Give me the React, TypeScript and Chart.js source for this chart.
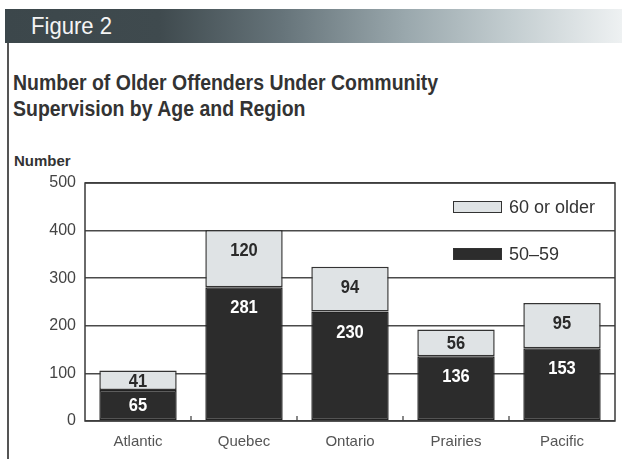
import React, { useEffect, useRef } from "react";
import { Chart, registerables } from "chart.js";

Chart.register(...registerables);

const categories = ["Atlantic", "Quebec", "Ontario", "Prairies", "Pacific"];
const age5059 = [65, 281, 230, 136, 153];
const age60plus = [41, 120, 94, 56, 95];
const seriesLabels = ["60 or older", "50\u201359"];
const yTicks = [0, 100, 200, 300, 400, 500];

const DARK = "#2c2c2c";
const LIGHT = "#dfe3e5";
const SANS = "'Liberation Sans', Arial, sans-serif";

const framePlugin = {
  id: "frame",
  afterDatasetsDraw(chart: any) {
    const { ctx, chartArea } = chart;
    const xs = chart.scales.x;
    ctx.save();
    ctx.strokeStyle = "#3a3a3a";
    ctx.lineWidth = 1.5;
    ctx.strokeRect(chartArea.left, chartArea.top, chartArea.right - chartArea.left, chartArea.bottom - chartArea.top);
    // small ticks between categories
    ctx.lineWidth = 1.2;
    for (let i = 0; i < categories.length - 1; i++) {
      const xp = (xs.getPixelForValue(i) + xs.getPixelForValue(i + 1)) / 2;
      ctx.beginPath();
      ctx.moveTo(xp, chartArea.bottom);
      ctx.lineTo(xp, chartArea.bottom - 5);
      ctx.stroke();
    }
    // value labels (condensed bold)
    ctx.textAlign = "center";
    ctx.textBaseline = "middle";
    ctx.font = `bold 19px ${SANS}`;
    chart.data.datasets.forEach((ds: any, di: number) => {
      const meta = chart.getDatasetMeta(di);
      meta.data.forEach((el: any, i: number) => {
        const top = Math.min(el.y, el.base);
        const bottom = Math.max(el.y, el.base);
        const y = Math.min(top + 20, (top + bottom) / 2);
        ctx.save();
        ctx.translate(el.x, y + 1);
        ctx.scale(0.87, 1);
        ctx.fillStyle = ds.labelColor;
        ctx.fillText(String(ds.data[i]), 0, 0);
        ctx.restore();
      });
    });
    // legend
    const lx = chartArea.right - 162;
    const items = [
      { label: seriesLabels[0], color: LIGHT, y: chartArea.top + 18 },
      { label: seriesLabels[1], color: DARK, y: chartArea.top + 65 },
    ];
    ctx.textAlign = "left";
    ctx.font = `18px ${SANS}`;
    items.forEach((it) => {
      ctx.fillStyle = it.color;
      ctx.fillRect(lx, it.y, 49, 12);
      ctx.strokeStyle = "#333";
      ctx.lineWidth = 1;
      ctx.strokeRect(lx + 0.5, it.y + 0.5, 48, 11);
      ctx.fillStyle = "#333";
      ctx.fillText(it.label, lx + 56, it.y + 7);
    });
    ctx.restore();
  },
};

export default function App() {
  const ref = useRef<HTMLCanvasElement>(null);
  useEffect(() => {
    if (!ref.current) return;
    const chart = new Chart(ref.current, {
      type: "bar",
      data: {
        labels: categories,
        datasets: [
          {
            label: seriesLabels[1],
            data: age5059,
            backgroundColor: DARK,
            borderColor: "#222",
            borderWidth: 1.5,
            borderSkipped: false,
            labelColor: "#ffffff",
          } as any,
          {
            label: seriesLabels[0],
            data: age60plus,
            backgroundColor: LIGHT,
            borderColor: "#333",
            borderWidth: 1.5,
            borderSkipped: false,
            labelColor: "#2a2a2a",
          } as any,
        ],
      },
      options: {
        animation: false,
        responsive: false,
        maintainAspectRatio: false,
        layout: { padding: { top: 33, right: 7, left: 0, bottom: 0 } },
        plugins: { legend: { display: false }, tooltip: { enabled: false }, title: { display: false } },
        datasets: { bar: { barPercentage: 0.73, categoryPercentage: 1 } },
        scales: {
          x: {
            stacked: true,
            grid: { display: false, drawTicks: false },
            border: { display: false },
            ticks: { color: "#555", font: { family: SANS, size: 15 }, padding: 12 },
            afterFit(s: any) { s.height = 38; },
          },
          y: {
            stacked: true,
            min: 0,
            max: 500,
            afterBuildTicks(s: any) { s.ticks = yTicks.map((v) => ({ value: v })); },
            grid: { color: "#4a4a4a", lineWidth: 1.5, drawTicks: false },
            border: { display: false },
            ticks: { color: "#444", font: { family: SANS, size: 16 }, padding: 9 },
            afterFit(s: any) { s.width = 85; },
          },
        },
      },
      plugins: [framePlugin],
    } as any);
    return () => chart.destroy();
  }, []);

  return (
    <div style={{ position: "fixed", left: 0, top: 0, width: 622, height: 459, background: "#fff", overflow: "hidden" }}>
      <div
        style={{
          position: "absolute", left: 5, top: 9, width: 617, height: 34,
          background: "linear-gradient(to right, #3c474b 0%, #3f4a4e 25%, #66747a 45%, #9aa8ad 65%, #c3cdd0 82%, #eef1f2 100%)",
        }}
      />
      <div style={{ position: "absolute", left: 31, top: 12, color: "#f4f4f4", font: `24px ${SANS}`, lineHeight: "28px", transform: "scaleX(0.92)", transformOrigin: "left top", whiteSpace: "nowrap" }}>
        Figure 2
      </div>
      <div style={{ position: "absolute", left: 7, top: 43, width: 2, height: 416, background: "#555" }} />
      <div style={{ position: "absolute", left: 13, top: 70, color: "#333", font: `bold 22px ${SANS}`, lineHeight: "26px", transform: "scaleX(0.885)", transformOrigin: "left top", whiteSpace: "nowrap" }}>
        Number of Older Offenders Under Community
        <br />
        Supervision by Age and Region
      </div>
      <div style={{ position: "absolute", left: 14, top: 152, color: "#333", font: `bold 15px ${SANS}`, lineHeight: "18px", whiteSpace: "nowrap" }}>
        Number
      </div>
      <div style={{ position: "absolute", left: 0, top: 150, width: 622, height: 309 }}>
        <canvas ref={ref} width={622} height={309} style={{ width: 622, height: 309 }} />
      </div>
    </div>
  );
}
